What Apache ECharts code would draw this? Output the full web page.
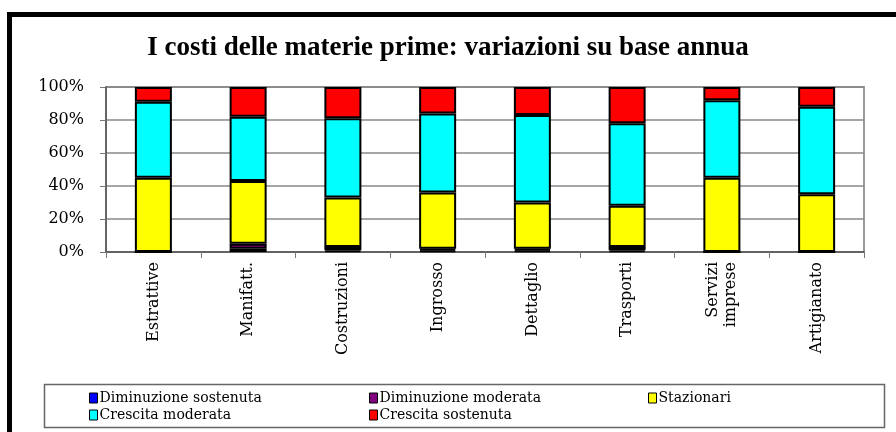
<!DOCTYPE html>
<html lang="it">
<head>
<meta charset="UTF-8" />
<title>I costi delle materie prime</title>
<script src="https://cdn.jsdelivr.net/npm/echarts@6/dist/echarts.min.js"></script>
<style>
  html, body { margin: 0; padding: 0; background: #fff; }
  #chart { width: 896px; height: 432px; }
</style>
</head>
<body>
<div id="chart"></div>
<script>
// categorie e quote percentuali
const categories = ["Estrattive", "Manifatt.", "Costruzioni", "Ingrosso", "Dettaglio", "Trasporti", "Servizi\nimprese", "Artigianato"];
const diminuzioneSostenuta = [0, 2, 1, 1, 1, 1, 0, 0];
const diminuzioneModerata  = [0, 3, 2, 1, 1, 2, 0, 0];
const stazionari           = [45, 38, 30, 34, 28, 25, 45, 35];
const crescitaModerata     = [46, 39, 48, 48, 53, 50, 47, 53];
const crescitaSostenuta    = [9, 18, 19, 16, 17, 22, 8, 12];
const yTicks = [0, 20, 40, 60, 80, 100];

const serif = "DejaVu Serif";

const seriesDefs = [
    ["Diminuzione sostenuta", diminuzioneSostenuta, "#0000ff"],
    ["Diminuzione moderata", diminuzioneModerata, "#800080"],
    ["Stazionari", stazionari, "#ffff00"],
    ["Crescita moderata", crescitaModerata, "#00ffff"],
    ["Crescita sostenuta", crescitaSostenuta, "#ff0000"],
];

const legendBase = {
    orient: "vertical",
    itemWidth: 8,
    itemHeight: 10,
    itemGap: 3,
    icon: "rect",
    itemStyle: { borderColor: "#000", borderWidth: 1 },
    textStyle: { fontFamily: serif, fontSize: 14, color: "#000", padding: [0, 0, 0, -3], lineHeight: 14 },
    top: 386,
};

const chart = echarts.init(document.getElementById("chart"));
chart.setOption({
    animation: false,
    title: {
        text: "I costi delle materie prime: variazioni su base annua",
        left: "center",
        top: 30,
        textStyle: { fontFamily: "Liberation Serif", fontWeight: "bold", fontSize: 27, color: "#000" },
    },
    grid: { left: 106, right: 32, top: 87, bottom: 180, show: true, borderColor: "#999", borderWidth: 2 },
    legend: [
        Object.assign({}, legendBase, { left: 84, data: ["Diminuzione sostenuta", "Crescita moderata"] }),
        Object.assign({}, legendBase, { left: 364, data: ["Diminuzione moderata", "Crescita sostenuta"] }),
        Object.assign({}, legendBase, { left: 643, data: ["Stazionari"] }),
    ],
    xAxis: {
        type: "category",
        data: categories,
        axisLine: { lineStyle: { color: "#555", width: 1.5 } },
        axisTick: { show: true, length: 6, lineStyle: { color: "#777" } },
        axisLabel: { rotate: 90, margin: 10, fontFamily: serif, fontSize: 16, color: "#000", lineHeight: 18, interval: 0 },
    },
    yAxis: {
        type: "value",
        min: yTicks[0],
        max: yTicks[yTicks.length - 1],
        interval: yTicks[1] - yTicks[0],
        axisLine: { show: true, lineStyle: { color: "#555", width: 1.5 } },
        axisTick: { show: true, length: 6, lineStyle: { color: "#777" } },
        axisLabel: { formatter: "{value}%", margin: 22, fontFamily: serif, fontSize: 16, color: "#000" },
        splitLine: { lineStyle: { color: "#888", width: 1.5 } },
    },
    series: seriesDefs.map(([name, data, color]) => ({
        name,
        type: "bar",
        stack: "totale",
        barWidth: 37,
        data,
        itemStyle: { color, borderColor: "#000", borderWidth: 2 },
    })),
    graphic: [
        { type: "rect", shape: { x: 9.5, y: 14.5, width: 900, height: 430 }, style: { fill: null, stroke: "#000", lineWidth: 5 }, silent: true },
        { type: "rect", shape: { x: 44.5, y: 384.5, width: 840, height: 43 }, style: { fill: null, stroke: "#666", lineWidth: 1.5 }, silent: true, z: -1 },
    ],
});
</script>
</body>
</html>
